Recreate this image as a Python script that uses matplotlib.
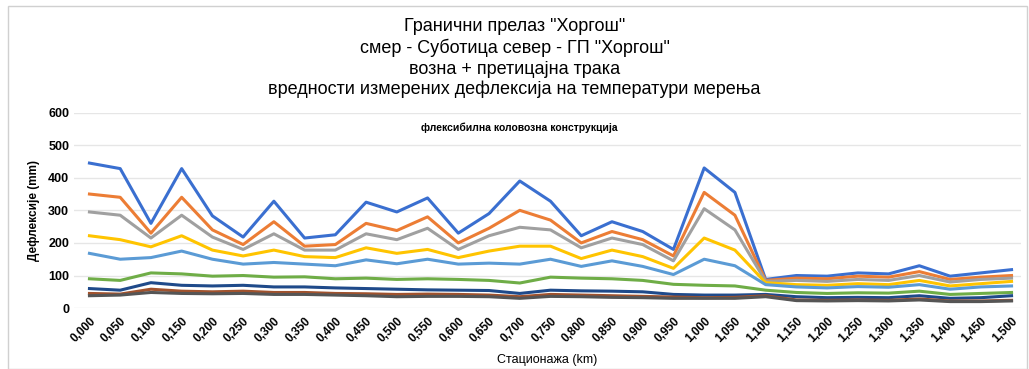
import numpy as np
import matplotlib.pyplot as plt
from matplotlib.patches import Rectangle

plt.rcParams['font.family'] = ['Liberation Sans', 'DejaVu Sans']

# stacionaza (km)
stanice = [f"{0.05 * i:.3f}".replace(".", ",") for i in range(31)]

# deflekcije po geofonima (mm)
d1 = [445, 428, 260, 428, 283, 218, 328, 215, 225, 325, 295, 338, 230, 290, 390, 328,
      222, 265, 235, 180, 430, 355, 88, 100, 98, 108, 105, 130, 98, 108, 118]
d2 = [350, 340, 230, 340, 240, 195, 265, 190, 195, 260, 238, 280, 200, 245, 300, 270,
      200, 235, 210, 160, 355, 285, 85, 92, 90, 98, 95, 112, 88, 95, 100]
d3 = [295, 285, 215, 285, 218, 180, 228, 178, 178, 228, 210, 245, 180, 222, 248, 240,
      185, 215, 195, 145, 305, 240, 82, 85, 82, 88, 85, 100, 80, 88, 92]
d4 = [222, 210, 188, 222, 178, 160, 178, 158, 155, 185, 168, 180, 155, 175, 190, 190,
      152, 178, 158, 122, 215, 178, 78, 72, 70, 75, 72, 85, 68, 75, 82]
d5 = [168, 150, 155, 175, 150, 135, 140, 135, 130, 148, 136, 150, 135, 138, 135, 150,
      128, 145, 128, 103, 150, 130, 72, 65, 62, 66, 64, 72, 58, 65, 68]
d6 = [90, 85, 108, 105, 98, 100, 95, 96, 90, 92, 88, 90, 88, 85, 77, 95,
      92, 90, 85, 73, 70, 68, 55, 48, 45, 47, 46, 52, 42, 45, 48]
d7 = [60, 55, 78, 70, 68, 70, 65, 65, 62, 60, 58, 56, 55, 54, 45, 55,
      53, 52, 50, 42, 40, 40, 42, 35, 32, 33, 32, 38, 30, 32, 38]
d8 = [45, 43, 58, 52, 50, 52, 48, 48, 45, 44, 42, 43, 42, 40, 35, 42,
      40, 38, 36, 34, 32, 33, 38, 25, 24, 25, 24, 28, 22, 22, 24]
d9 = [38, 40, 48, 45, 44, 45, 42, 42, 40, 38, 35, 36, 36, 35, 30, 36,
      35, 33, 32, 30, 30, 30, 35, 23, 22, 23, 22, 25, 20, 20, 22]

serije = [d1, d2, d3, d4, d5, d6, d7, d8, d9]
boje = ["#3a6fd0", "#ec7d35", "#a0a0a0", "#ffc400", "#5b9bd5",
        "#6fad47", "#1f4a8a", "#a0522d", "#555555"]

fig = plt.figure(figsize=(10.29, 3.69), dpi=100)
ax = fig.add_axes([0.072, 0.165, 0.92, 0.53])

x = np.arange(len(stanice))
for y, c in zip(serije, boje):
    ax.plot(x, y, color=c, linewidth=2.2)

ax.set_xlim(-0.5, 30.3)
ax.set_ylim(0, 600)
ax.set_yticks(range(0, 601, 100))
ax.set_xticks(x)
ax.set_xticklabels(stanice, rotation=45, ha="right", rotation_mode="anchor",
                   fontsize=8.5, fontweight="bold")
ax.tick_params(axis="y", labelsize=9, length=0)
for lab in ax.get_yticklabels():
    lab.set_fontweight("bold")
ax.tick_params(axis="x", length=0, pad=5)
ax.grid(axis="y", color="#e6e6e6", linewidth=1)
ax.set_axisbelow(True)
for s in ax.spines.values():
    s.set_visible(False)

ax.set_ylabel("Дефлексије (mm)", fontsize=8.5, fontweight="bold", labelpad=6)
ax.set_xlabel("Стационажа (km)", fontsize=9, labelpad=7)

fig.text(0.5, 0.95, 'Гранични прелаз "Хоргош"\nсмер - Суботица север - ГП "Хоргош"\n'
         'возна + претицајна трака\nвредности измерених дефлексија на температури мерења',
         ha="center", va="top", fontsize=13, linespacing=1.25)
fig.text(0.505, 0.655, "флексибилна коловозна конструкција", ha="center", va="center",
         fontsize=7.5, fontweight="bold")

fig.patches.append(Rectangle((0.008, 0.0), 0.99, 0.985, transform=fig.transFigure,
                             fill=False, edgecolor="#d0d0d0", linewidth=1))

fig.savefig("out.png", dpi=100)
